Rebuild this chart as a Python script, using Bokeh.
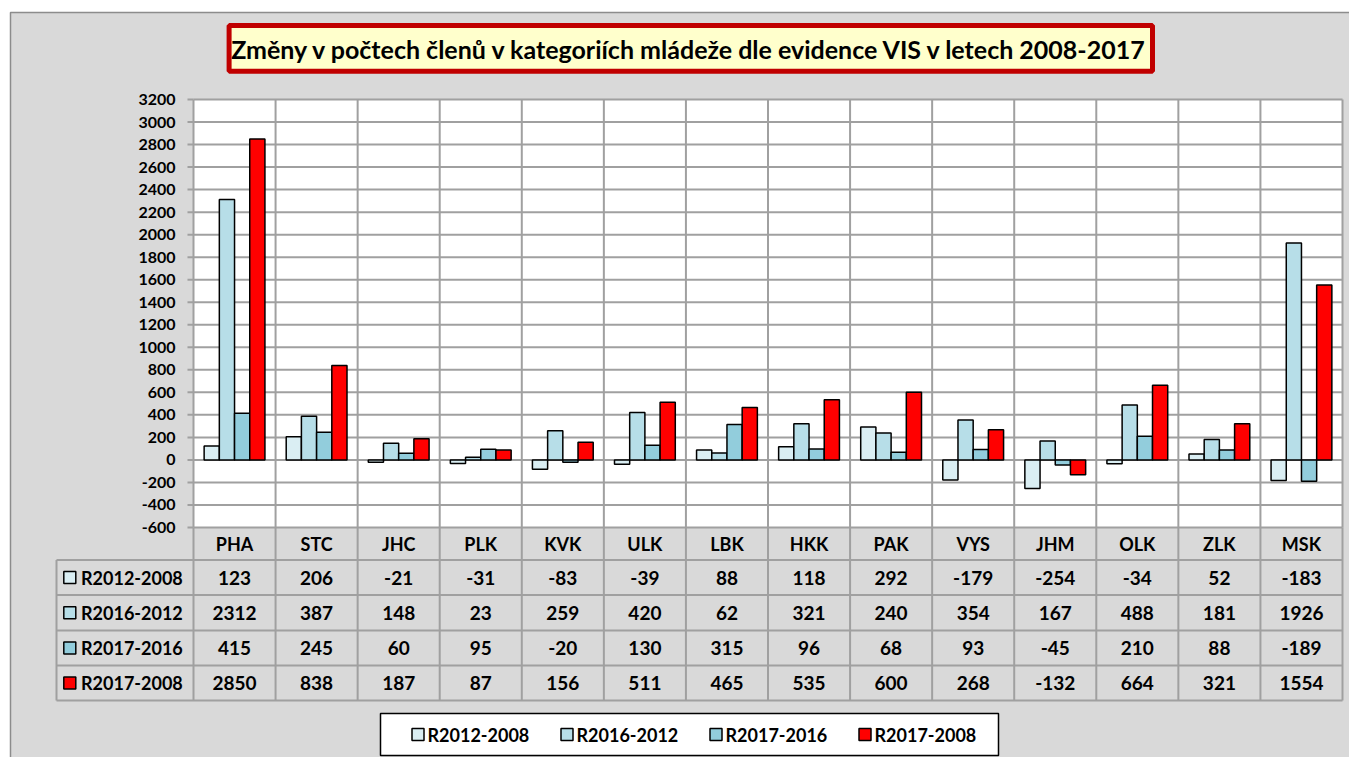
from bokeh.plotting import figure
from bokeh.models import Range1d
from bokeh.core.properties import value
from bokeh.embed import file_html
from bokeh.resources import INLINE

categories = ["PHA", "STC", "JHC", "PLK", "KVK", "ULK", "LBK", "HKK", "PAK", "VYS", "JHM", "OLK", "ZLK", "MSK"]
series_names = ["R2012-2008", "R2016-2012", "R2017-2016", "R2017-2008"]
r2012_2008 = [123, 206, -21, -31, -83, -39, 88, 118, 292, -179, -254, -34, 52, -183]
r2016_2012 = [2312, 387, 148, 23, 259, 420, 62, 321, 240, 354, 167, 488, 181, 1926]
r2017_2016 = [415, 245, 60, 95, -20, 130, 315, 96, 68, 93, -45, 210, 88, -189]
r2017_2008 = [2850, 838, 187, 87, 156, 511, 465, 535, 600, 268, -132, 664, 321, 1554]
y_ticks = list(range(-600, 3201, 200))
title_text = "Změny v počtech členů v kategoriích mládeže dle evidence VIS v letech 2008-2017"
colors = ["#DAEEF3", "#B7DEE8", "#92CDDC", "#FF0000"]

series = [r2012_2008, r2016_2012, r2017_2016, r2017_2008]

FONT = value("Lato")
GRID = "#A0A0A0"

W, H = 1349, 757
PL, PR, PT, PB = 193, 1342, 99, 527
n = len(categories)
cw = (PR - PL) / n
vmin, vmax = -600, 3200
ppu = (PB - PT) / (vmax - vmin)

p = figure(width=W, height=H, x_range=Range1d(0, W), y_range=Range1d(H, 0),
           output_backend="svg", toolbar_location=None, min_border=0,
           x_axis_type=None, y_axis_type=None, outline_line_color=None)
p.extra_x_ranges = {"cat": Range1d(-PL / cw, n + (W - PR) / cw)}
p.extra_y_ranges = {"val": Range1d(vmin - (H - PB) / ppu, vmax + PT / ppu)}
p.background_fill_color = "white"
p.border_fill_color = "white"

# chart background
p.quad(left=10, right=W + 5, top=12, bottom=H + 5, fill_color="#D9D9D9",
       line_color="#8C8C8C", line_width=1.5)

# plot area
p.quad(left=0, right=n, bottom=vmin, top=vmax, x_range_name="cat", y_range_name="val",
       fill_color="white", line_color=None)

# horizontal grid
p.segment(x0=[0] * len(y_ticks), x1=[n] * len(y_ticks), y0=y_ticks, y1=y_ticks,
          x_range_name="cat", y_range_name="val", line_color=GRID, line_width=2)
# vertical category lines in plot
bounds = list(range(n + 1))
p.segment(x0=bounds, x1=bounds, y0=[vmin] * len(bounds), y1=[vmax] * len(bounds),
          x_range_name="cat", y_range_name="val", line_color=GRID, line_width=2)

# y tick marks and labels
p.segment(x0=[PL - 6] * len(y_ticks), x1=[PL] * len(y_ticks), y0=y_ticks, y1=y_ticks,
          y_range_name="val", line_color=GRID, line_width=2)
p.text(x=[PL - 18] * len(y_ticks), y=y_ticks, text=[str(t) for t in y_ticks],
       y_range_name="val", text_align="right", text_baseline="middle",
       text_font=FONT, text_font_style="bold", text_font_size="16px", text_color="black")

# bars
bw = 15.2 / cw
for k, (vals, col) in enumerate(zip(series, colors)):
    xs = [i + 0.5 + (k - 1.5) * bw for i in range(n)]
    p.vbar(x=xs, top=vals, bottom=0, width=bw, x_range_name="cat", y_range_name="val",
           fill_color=col, line_color="black", line_width=1.5)

# data table
row_lines = [559.5, 594.5, 630, 665, 700]
TL = 56
p.segment(x0=[TL] * len(row_lines), x1=[PR] * len(row_lines), y0=row_lines, y1=row_lines,
          line_color=GRID, line_width=2)
p.segment(x0=[TL], x1=[TL], y0=[row_lines[0]], y1=[row_lines[-1]], line_color=GRID, line_width=2)
p.segment(x0=bounds, x1=bounds, y0=[PB] * len(bounds), y1=[row_lines[-1]] * len(bounds),
          x_range_name="cat", line_color=GRID, line_width=2)

p.text(x=[i + 0.5 for i in range(n)], y=[(PB + row_lines[0]) / 2] * n, text=categories,
       x_range_name="cat", text_align="center", text_baseline="middle",
       text_font=FONT, text_font_style="bold", text_font_size="18px", text_color="black")

for r, vals in enumerate(series):
    yc = (row_lines[r] + row_lines[r + 1]) / 2
    p.text(x=[i + 0.5 for i in range(n)], y=[yc] * n, text=[str(v) for v in vals],
           x_range_name="cat", text_align="center", text_baseline="middle",
           text_font=FONT, text_font_style="bold", text_font_size="19px", text_color="black")

row_y = [(row_lines[r] + row_lines[r + 1]) / 2 for r in range(len(series))]
p.scatter(x=[69.3] * len(series), y=row_y, marker="square", size=12,
          fill_color=colors, line_color="black", line_width=1.5)
p.text(x=[80.5] * len(series), y=row_y, text=series_names, text_align="left",
       text_baseline="middle", text_font=FONT, text_font_style="bold",
       text_font_size="18px", text_color="black")

# legend
p.quad(left=380, right=998, top=713, bottom=755, fill_color="white",
       line_color="black", line_width=1.5)
leg_x = [417.5 + 149 * k for k in range(len(series))]
p.scatter(x=leg_x, y=[734] * len(series), marker="square", size=12,
          fill_color=colors, line_color="black", line_width=1.5)
p.text(x=[x + 9.5 for x in leg_x], y=[734] * len(series), text=series_names,
       text_align="left", text_baseline="middle", text_font=FONT, text_font_style="bold",
       text_font_size="18px", text_color="black")

# title
p.quad(left=228.6, right=1152, top=25, bottom=70.7, fill_color="#FFFFCC",
       line_color="#C00000", line_width=5)
p.text(x=[690], y=[48], text=[title_text], text_align="center", text_baseline="middle",
       text_font=FONT, text_font_style="bold", text_font_size="25px", text_color="black")

open("out.html", "w").write(file_html(p, INLINE))
